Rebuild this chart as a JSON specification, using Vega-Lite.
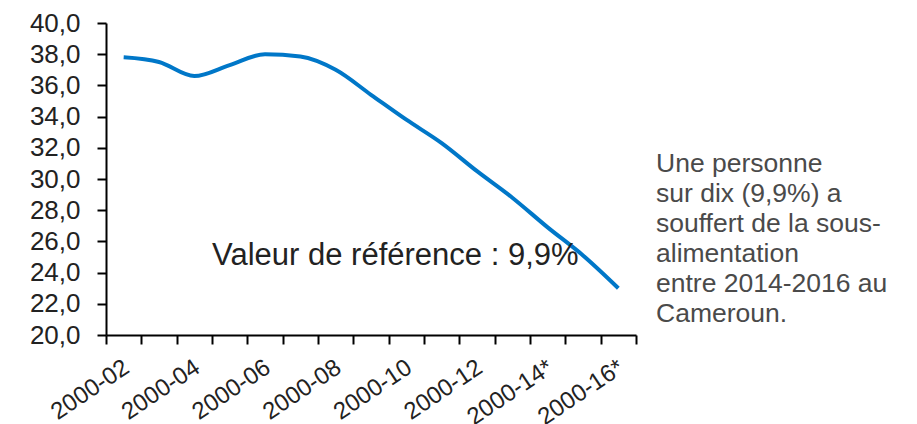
{
  "$schema": "https://vega.github.io/schema/vega-lite/v6.json",
  "padding": {"top": 10, "left": 5, "right": 5, "bottom": 0},
  "background": "white",
  "config": {
    "view": {"stroke": null},
    "font": "Liberation Sans",
    "concat": {"spacing": 19}
  },
  "resolve": {"scale": {"y": "independent"}},
  "hconcat": [
    {
      "width": 530,
      "height": 312,
      "layer": [
        {
          "data": {
            "values": [
              {"period": "2000-02", "value": 37.8},
              {"period": "2000-03", "value": 37.5},
              {"period": "2000-04", "value": 36.6},
              {"period": "2000-05", "value": 37.3},
              {"period": "2000-06", "value": 38.0},
              {"period": "2000-07", "value": 37.85},
              {"period": "2000-08", "value": 37.0},
              {"period": "2000-09", "value": 35.4},
              {"period": "2000-10", "value": 33.8},
              {"period": "2000-11", "value": 32.3},
              {"period": "2000-12", "value": 30.5},
              {"period": "2000-13", "value": 28.8},
              {"period": "2000-14*", "value": 26.9},
              {"period": "2000-15*", "value": 25.1},
              {"period": "2000-16*", "value": 23.0}
            ]
          },
          "mark": {"type": "line", "color": "#0077C8", "strokeWidth": 4, "interpolate": "monotone"},
          "encoding": {
            "x": {
              "field": "period",
              "type": "ordinal",
              "sort": null,
              "scale": {"type": "band", "paddingInner": 0, "paddingOuter": 0},
              "axis": {
                "title": null,
                "tickBand": "extent",
                "domainColor": "#000",
                "domainWidth": 2,
                "tickColor": "#000",
                "tickWidth": 2,
                "tickSize": 9,
                "labelAngle": -34,
                "labelAlign": "right",
                "labelBaseline": "top",
                "labelFontSize": 24,
                "labelColor": "#222",
                "labelPadding": 11,
                "labelOffset": -4,
                "labelOverlap": false,
                "labelExpr": "test(regexp('[02468][*]?$'), datum.label) ? datum.label : ''"
              }
            },
            "y": {
              "field": "value",
              "type": "quantitative",
              "scale": {"domain": [20, 40], "nice": false, "zero": false},
              "axis": {
                "title": null,
                "grid": false,
                "tickCount": 10,
                "domainColor": "#000",
                "domainWidth": 2,
                "tickColor": "#000",
                "tickWidth": 2,
                "tickSize": 9,
                "labelFontSize": 26,
                "labelColor": "#222",
                "labelPadding": 17,
                "labelOverlap": false,
                "minExtent": 101,
                "labelExpr": "replace(format(datum.value, '.1f'), '.', ',')"
              }
            }
          }
        },
        {
          "data": {"values": [{"label": "Valeur de référence : 9,9%"}]},
          "mark": {"type": "text", "fontSize": 31, "color": "#222", "align": "center", "baseline": "alphabetic", "dx": -11},
          "encoding": {
            "x": {"datum": "2000-10", "type": "ordinal"},
            "y": {"datum": 24.5, "type": "quantitative"},
            "text": {"field": "label"}
          }
        }
      ]
    },
    {
      "width": 250,
      "height": 312,
      "data": {"values": [{"note": "Une personne\nsur dix (9,9%) a\nsouffert de la sous-\nalimentation\nentre 2014-2016 au\nCameroun."}]},
      "mark": {"type": "text", "fontSize": 26.5, "color": "#4a4a4a", "align": "left", "baseline": "top", "lineHeight": 30, "lineBreak": "\n"},
      "encoding": {
        "x": {"datum": 0, "type": "quantitative", "scale": {"domain": [0, 1]}, "axis": null},
        "y": {"datum": 31.8, "type": "quantitative", "scale": {"domain": [20, 40], "nice": false, "zero": false}, "axis": null},
        "text": {"field": "note"}
      }
    }
  ]
}
